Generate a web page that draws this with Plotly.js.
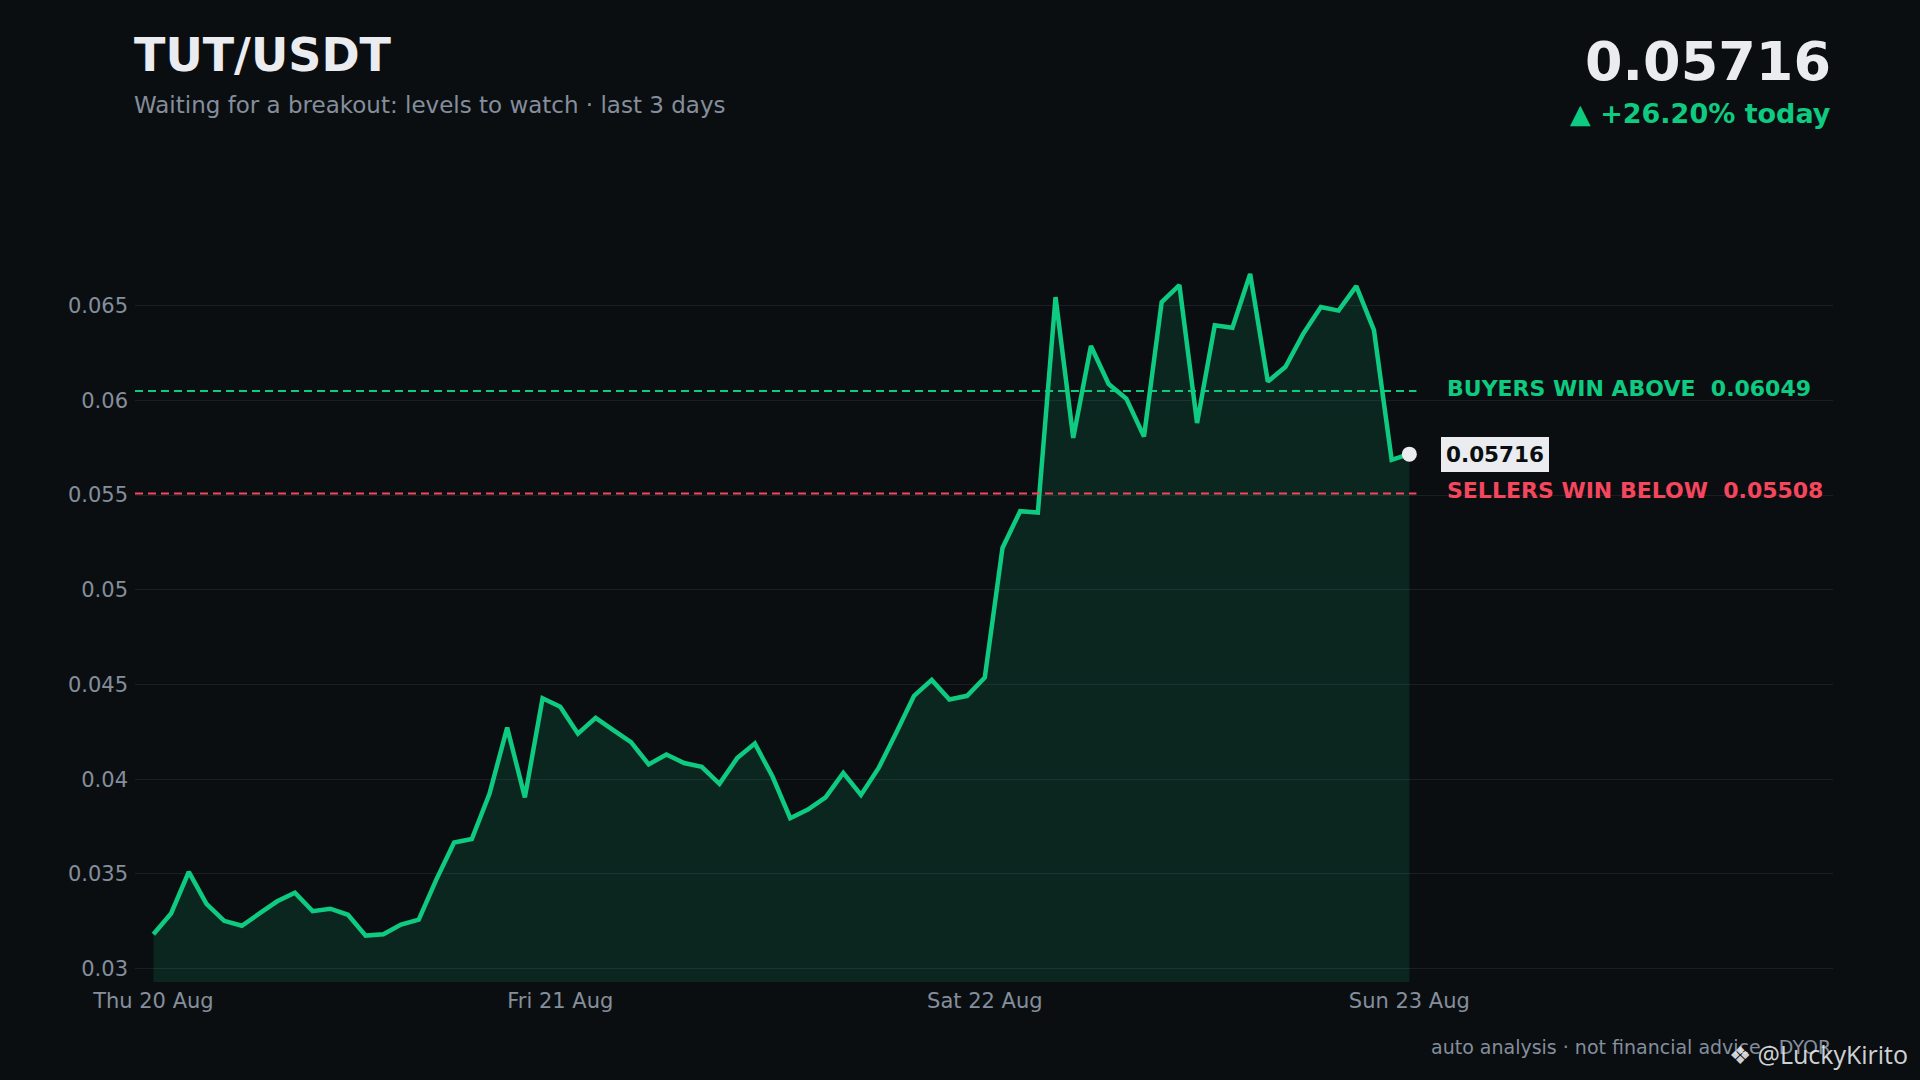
<!DOCTYPE html>
<html>
<head>
<meta charset="utf-8">
<script src="https://cdn.plot.ly/plotly-3.0.1.min.js"></script>
<style>
  html, body { margin: 0; padding: 0; background: #0b0e11; }
  #chart { width: 1920px; height: 1080px; }
</style>
</head>
<body>
<div id="chart"></div>
<script>
// hourly closes, last 3 days
var hours = [
  0, 1, 2, 3, 4, 5, 6, 7, 8, 9, 10, 11, 12, 13, 14, 15, 16, 17, 18, 19, 20, 21, 22, 23,
  24, 25, 26, 27, 28, 29, 30, 31, 32, 33, 34, 35, 36, 37, 38, 39, 40, 41, 42, 43, 44, 45, 46, 47,
  48, 49, 50, 51, 52, 53, 54, 55, 56, 57, 58, 59, 60, 61, 62, 63, 64, 65, 66, 67, 68, 69, 70, 71
];
var closes = [
  0.03181, 0.03291, 0.03510, 0.03342, 0.03252, 0.03226, 0.03291, 0.03355, 0.03400, 0.03303,
  0.03316, 0.03284, 0.03174, 0.03181, 0.03232, 0.03258, 0.03471, 0.03665, 0.03684, 0.03923,
  0.04272, 0.03904, 0.04427, 0.04382, 0.04240, 0.04324, 0.04259, 0.04195, 0.04078, 0.04130,
  0.04085, 0.04065, 0.03975, 0.04111, 0.04188, 0.04014, 0.03794, 0.03839, 0.03904, 0.04033,
  0.03917, 0.04059, 0.04246, 0.04440, 0.04524, 0.04421, 0.04440, 0.04537, 0.05221, 0.05415,
  0.05408, 0.06545, 0.05802, 0.06287, 0.06086, 0.06009, 0.05809, 0.06519, 0.06609, 0.05880,
  0.06396, 0.06383, 0.06668, 0.06099, 0.06177, 0.06351, 0.06493, 0.06474, 0.06603, 0.06371,
  0.05686, 0.05716
];
var dayTicks = [0, 23, 47, 71];
var dayLabels = ['Thu 20 Aug', 'Fri 21 Aug', 'Sat 22 Aug', 'Sun 23 Aug'];

var buyersLevel = 0.06049;
var sellersLevel = 0.05508;
var lastPrice = 0.05716;
var changeToday = '+26.20%';

var GREEN = '#0ecb81';
var RED = '#f6465d';
var TEXT = '#eaecef';
var MUTED = '#848e9c';
var BG = '#0b0e11';
var FONT = 'DejaVu Sans';

var xRange = [-1.04, 94.95];
var lastX = hours[hours.length - 1];

var priceTrace = {
  x: hours,
  y: closes,
  mode: 'lines',
  line: { color: GREEN, width: 4.5 },
  fill: 'tozeroy',
  fillcolor: 'rgba(14,203,129,0.13)',
  hoverinfo: 'skip'
};

var lastDot = {
  x: [lastX],
  y: [lastPrice],
  mode: 'markers',
  marker: { size: 15, color: TEXT },
  hoverinfo: 'skip'
};

var layout = {
  width: 1920,
  height: 1080,
  paper_bgcolor: BG,
  plot_bgcolor: BG,
  showlegend: false,
  margin: { l: 135, r: 87, t: 228, b: 98 },
  font: { family: FONT, color: MUTED, size: 21 },
  xaxis: {
    range: xRange,
    tickvals: dayTicks,
    ticktext: dayLabels,
    showgrid: false,
    zeroline: false,
    showline: false,
    ticks: '',
    ticklabelstandoff: 4,
    tickfont: { family: FONT, size: 21, color: MUTED }
  },
  yaxis: {
    range: [0.02929, 0.0691],
    dtick: 0.005,
    tick0: 0,
    gridcolor: '#1b1f25',
    gridwidth: 1,
    zeroline: false,
    showline: false,
    ticks: '',
    ticklabelstandoff: 6,
    tickfont: { family: FONT, size: 21, color: MUTED }
  },
  shapes: [
    {
      type: 'line', xref: 'x', yref: 'y',
      x0: xRange[0], x1: lastX + 0.4, y0: buyersLevel, y1: buyersLevel,
      line: { color: GREEN, width: 2, dash: '8px,5px' }
    },
    {
      type: 'line', xref: 'x', yref: 'y',
      x0: xRange[0], x1: lastX + 0.4, y0: sellersLevel, y1: sellersLevel,
      line: { color: RED, width: 2, dash: '8px,5px' }
    }
  ],
  annotations: [
    {
      text: 'TUT/USDT', xref: 'paper', yref: 'paper', x: -0.002, y: 1.2294,
      xanchor: 'left', yanchor: 'middle', showarrow: false,
      font: { family: FONT, size: 46, color: TEXT, weight: 'bold' }
    },
    {
      text: 'Waiting for a breakout: levels to watch \u00b7 last 3 days',
      xref: 'paper', yref: 'paper', x: -0.002, y: 1.1625,
      xanchor: 'left', yanchor: 'middle', showarrow: false,
      font: { family: FONT, size: 23, color: MUTED }
    },
    {
      text: lastPrice.toFixed(5), xref: 'paper', yref: 'paper', x: 1, y: 1.2206,
      xanchor: 'right', yanchor: 'middle', showarrow: false,
      font: { family: FONT, size: 54, color: TEXT, weight: 'bold' }
    },
    {
      text: '\u25b2 ' + changeToday + ' today', xref: 'paper', yref: 'paper', x: 1, y: 1.1515,
      xanchor: 'right', yanchor: 'middle', showarrow: false,
      font: { family: FONT, size: 27, color: GREEN, weight: 'bold' }
    },
    {
      text: 'BUYERS WIN ABOVE  ' + buyersLevel.toFixed(5),
      xref: 'paper', yref: 'y', x: 0.7717, y: buyersLevel, yshift: 3,
      xanchor: 'left', yanchor: 'middle', showarrow: false,
      font: { family: FONT, size: 22, color: GREEN, weight: 'bold' }
    },
    {
      text: 'SELLERS WIN BELOW  ' + sellersLevel.toFixed(5),
      xref: 'paper', yref: 'y', x: 0.7717, y: sellersLevel, yshift: 3,
      xanchor: 'left', yanchor: 'middle', showarrow: false,
      font: { family: FONT, size: 22, color: RED, weight: 'bold' }
    },
    {
      text: lastPrice.toFixed(5),
      xref: 'paper', yref: 'y', x: 0.7691, y: lastPrice,
      xanchor: 'left', yanchor: 'middle', showarrow: false,
      bgcolor: TEXT, borderpad: 4, bordercolor: TEXT, borderwidth: 1,
      font: { family: FONT, size: 21.5, color: BG, weight: 'bold' }
    },
    {
      text: 'auto analysis \u00b7 not financial advice \u00b7 DYOR',
      xref: 'paper', yref: 'paper', x: 1, y: -0.0862,
      xanchor: 'right', yanchor: 'middle', showarrow: false,
      font: { family: FONT, size: 19, color: MUTED }
    },
    {
      text: '\u2756 @LuckyKirito',
      xref: 'paper', yref: 'paper', x: 1.0453, y: -0.0955,
      xanchor: 'right', yanchor: 'middle', showarrow: false,
      font: { family: 'Open Sans', size: 25, color: 'rgba(234,236,239,0.9)' }
    }
  ]
};

Plotly.newPlot('chart', [priceTrace, lastDot], layout, { displayModeBar: false, staticPlot: true });
</script>
</body>
</html>
